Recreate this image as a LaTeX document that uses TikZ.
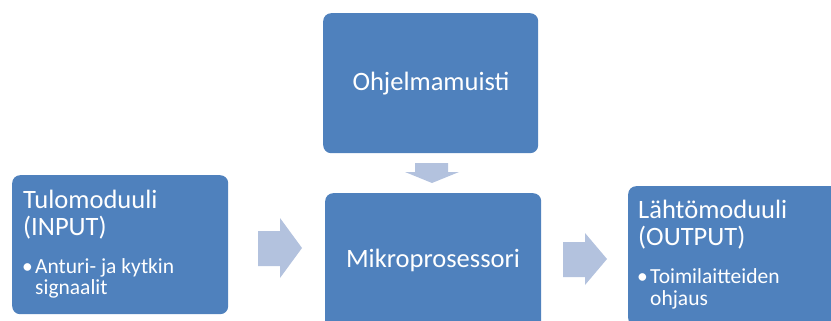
\documentclass[tikz,border=0pt]{standalone}
\usepackage{fontspec}
\setmainfont{Carlito}
\definecolor{boxblue}{HTML}{4F81BD}
\definecolor{arrowblue}{HTML}{B3C2DE}
\tikzset{
  box/.style={fill=boxblue, rounded corners=8pt, draw=none, inner sep=0pt, anchor=north west},
  blockarrow/.style={fill=arrowblue, draw=none},
  title/.style={text=white, inner sep=0pt, anchor=base west, font=\fontsize{26.5}{31}\selectfont},
  ctitle/.style={text=white, inner sep=0pt, anchor=base, font=\fontsize{26.5}{31}\selectfont},
  bullet/.style={text=white, inner sep=0pt, anchor=base west, font=\fontsize{21.5}{25}\selectfont}
}
\begin{document}
\begin{tikzpicture}[x=1pt,y=-1pt]
\useasboundingbox (0,0) rectangle (831,321);
\clip (0,0) rectangle (831,321);
% boxes
\node[box, minimum width=216pt, minimum height=139pt] (in) at (12,175) {};
\node[box, minimum width=215pt, minimum height=140pt] (mem) at (323,13) {};
\node[box, minimum width=216pt, minimum height=140pt] (cpu) at (325,193) {};
\node[box, minimum width=216pt, minimum height=140pt] (out) at (628,186) {};
% block arrows
\fill[blockarrow] (415,163) -- (448,163) -- (448,172) -- (459,172) -- (432,183) -- (405,172) -- (415,172) -- cycle;
\fill[blockarrow] (258,231) -- (280,231) -- (280,218) -- (302,248) -- (280,278) -- (280,266) -- (258,266) -- cycle;
\fill[blockarrow] (563,242) -- (585,242) -- (585,233) -- (607,259) -- (585,285) -- (585,277) -- (563,277) -- cycle;
% texts
\node[title] (t1) at (23,208) {Tulomoduuli};
\node[title] (t2) at (23,235) {(INPUT)};
\node[bullet] (bd1) at (22,273) {\textbullet};
\node[bullet] (b1) at (35,273) {Anturi- ja kytkin};
\node[bullet] (b2) at (35,294) {signaalit};
\node[ctitle] (m1) at (431,91) {Ohjelmamuisti};
\node[ctitle] (c1) at (433,267) {Mikroprosessori};
\node[title] (o1) at (638,218) {Lähtömoduuli};
\node[title] (o2) at (638,245) {(OUTPUT)};
\node[bullet] (bd2) at (637,283) {\textbullet};
\node[bullet] (ob1) at (650,283) {Toimilaitteiden};
\node[bullet] (ob2) at (650,305) {ohjaus};
\end{tikzpicture}
\end{document}
